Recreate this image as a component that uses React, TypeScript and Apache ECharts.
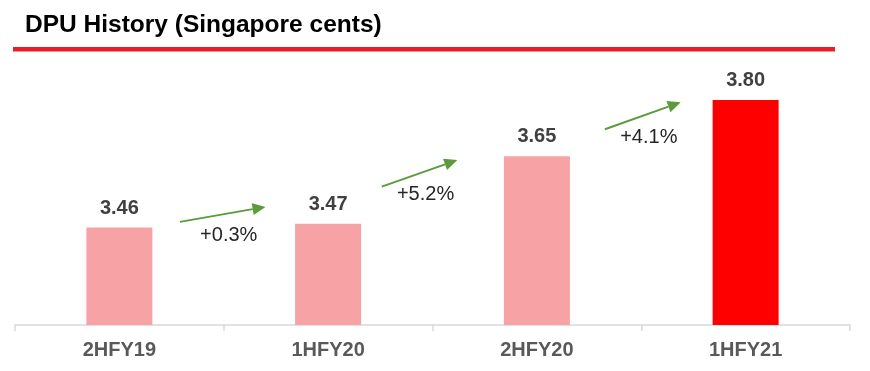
import React, { useEffect, useRef } from "react";
import * as echarts from "echarts";

const categories = ["2HFY19", "1HFY20", "2HFY20", "1HFY21"];
const dpuValues = [3.46, 3.47, 3.65, 3.8];
const barColors = ["#f7a3a6", "#f7a3a6", "#f7a3a6", "#ff0000"];
const growthLabels = ["+0.3%", "+5.2%", "+4.1%"];
const arrowStartValues = [3.475, 3.569, 3.722];
const arrowEndValues = [3.515, 3.64, 3.794];
const titleText = "DPU History (Singapore cents)";

// layout: fractional horizontal placement of each arrow between category centres
const arrowFrac = [
  [0.29, 0.7],
  [0.257, 0.619],
  [0.326, 0.689],
];

export default function App() {
  const ref = useRef<HTMLDivElement>(null);
  useEffect(() => {
    const chart = echarts.init(ref.current!, null, { renderer: "svg" });
    const font = "'Liberation Sans', Arial, sans-serif";
    const green = "#5b9b3b";
    chart.setOption({
      animation: false,
      textStyle: { fontFamily: font },
      grid: { left: 15, right: 20, top: 62.5, bottom: 46 },
      graphic: [
        {
          type: "text",
          left: 25,
          top: 11,
          style: {
            text: titleText,
            font: `bold 24.5px ${font}`,
            fill: "#000000",
          },
        },
        {
          type: "rect",
          shape: { x: 13, y: 47, width: 822, height: 4.5 },
          style: { fill: "#ec1c26" },
        },
      ],
      xAxis: {
        type: "category",
        data: categories,
        axisLine: { lineStyle: { color: "#d9d9d9", width: 1.5 } },
        axisTick: { show: true, length: 6, lineStyle: { color: "#d9d9d9", width: 1.5 } },
        axisLabel: {
          color: "#595959",
          fontWeight: "bold",
          fontSize: 20,
          fontFamily: font,
          margin: 14,
        },
      },
      yAxis: {
        type: "value",
        min: 3.2,
        max: 3.9,
        show: false,
        splitLine: { show: false },
      },
      series: [
        {
          type: "bar",
          barWidth: 66,
          data: dpuValues.map((v, i) => ({ value: v, itemStyle: { color: barColors[i] } })),
          label: {
            show: true,
            position: "top",
            distance: 11,
            formatter: (p: any) => p.value.toFixed(2),
            color: "#404040",
            fontWeight: "bold",
            fontSize: 20,
            fontFamily: font,
          },
        },
        {
          type: "custom",
          data: growthLabels.map((_, i) => [i, arrowStartValues[i], arrowEndValues[i]]),
          encode: { x: 0, y: [1, 2] },
          z: 5,
          renderItem: (params: any, api: any) => {
            const i = api.value(0);
            const a = api.coord([i, api.value(1)]);
            const b = api.coord([i + 1, api.value(2)]);
            const bw = b[0] - a[0];
            const sx = a[0] + arrowFrac[i][0] * bw;
            const ex = a[0] + arrowFrac[i][1] * bw;
            const sy = a[1];
            const ey = b[1];
            const dx = ex - sx;
            const dy = ey - sy;
            const len = Math.sqrt(dx * dx + dy * dy);
            const ux = dx / len;
            const uy = dy / len;
            const hl = 13;
            const hw = 6;
            const bx = ex - ux * hl;
            const by = ey - uy * hl;
            const px = -uy;
            const py = ux;
            return {
              type: "group",
              children: [
                {
                  type: "line",
                  shape: { x1: sx, y1: sy, x2: bx, y2: by },
                  style: { stroke: green, lineWidth: 2 },
                },
                {
                  type: "polygon",
                  shape: {
                    points: [
                      [ex, ey],
                      [bx + px * hw, by + py * hw],
                      [bx - px * hw, by - py * hw],
                    ],
                  },
                  style: { fill: green },
                },
                {
                  type: "text",
                  x: (sx + ex) / 2 + 6,
                  y: (sy + ey) / 2 + 20,
                  style: {
                    text: growthLabels[i],
                    font: `20px ${font}`,
                    fill: "#262626",
                    align: "center",
                    verticalAlign: "middle",
                  },
                },
              ],
            };
          },
        },
      ],
    });
    return () => chart.dispose();
  }, []);
  return (
    <div
      ref={ref}
      style={{ position: "fixed", left: 0, top: 0, width: 870, height: 371 }}
    />
  );
}
